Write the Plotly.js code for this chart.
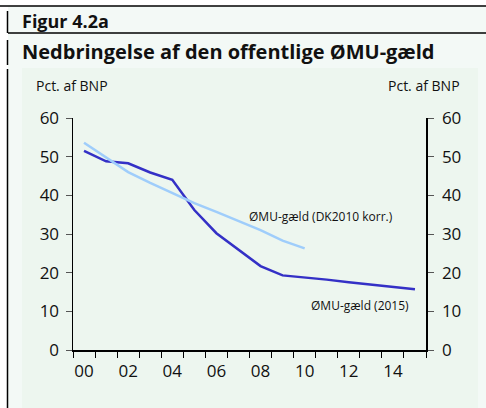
<!DOCTYPE html>
<html>
<head>
<meta charset="utf-8">
<script src="https://cdn.plot.ly/plotly-3.0.1.min.js"></script>
<style>html,body{margin:0;padding:0;background:#fff;}#chart{width:486px;height:408px;}</style>
</head>
<body>
<div id="chart"></div>
<script>
// ---- data ----
const years = [2000,2001,2002,2003,2004,2005,2006,2007,2008,2009,2010,2011,2012,2013,2014,2015];
const gaeld2015 = [51.5,48.8,48.3,45.9,44.0,36.2,30.2,25.9,21.7,19.3,18.8,18.2,17.5,16.9,16.4,15.7];
const yearsDK2010 = [2000,2001,2002,2003,2004,2005,2006,2007,2008,2009,2010];
const gaeldDK2010 = [53.6,49.8,46.0,43.2,40.6,38.0,35.7,33.4,31.0,28.3,26.3];
const xTickVals = [2000,2002,2004,2006,2008,2010,2012,2014];
const xTickText = ['00','02','04','06','08','10','12','14'];
const yTickVals = [0,10,20,30,40,50,60];
const seriesNames = ['ØMU-gæld (2015)','ØMU-gæld (DK2010 korr.)'];

// ---- layout helpers (pixel -> paper) ----
const W = 486, H = 408, L = 73, R = 60, T = 118, B = 58;
const pw = W - L - R, ph = H - T - B;
const px = x => (x - L) / pw;
const py = y => (H - B - y) / ph;

const font = '"Open Sans", "Noto Sans", sans-serif';

const traces = [
  {x: years, y: gaeld2015, type: 'scatter', mode: 'lines', name: seriesNames[0],
   line: {color: '#3430c6', width: 2.5}, hoverinfo: 'skip'},
  {x: yearsDK2010, y: gaeldDK2010, type: 'scatter', mode: 'lines', name: seriesNames[1],
   line: {color: '#9fcdfb', width: 2.5}, hoverinfo: 'skip'},
  {x: [years[0]], y: [null], yaxis: 'y2', type: 'scatter', mode: 'lines', showlegend: false, hoverinfo: 'skip'}
];

const axisY = {
  range: [0, 60], tickvals: yTickVals, ticks: 'outside', ticklen: 6, tickwidth: 1, tickcolor: '#555',
  showline: true, linecolor: '#000', linewidth: 1.5, showgrid: false, zeroline: false,
  tickfont: {family: font, size: 17, color: '#111'}, fixedrange: true
};

const layout = {
  width: W, height: H,
  margin: {l: L, r: R, t: T, b: B, pad: 0},
  paper_bgcolor: '#ffffff', plot_bgcolor: 'rgba(0,0,0,0)',
  showlegend: false,
  xaxis: {
    range: [years[0] - 0.5, years[years.length - 1] + 0.5],
    tickvals: xTickVals, ticktext: xTickText, ticks: 'outside', ticklen: 0,
    ticklabelstandoff: 5,
    minor: {tick0: years[0] - 0.5, dtick: 1, ticks: 'outside', ticklen: 6, tickwidth: 1, tickcolor: '#000', showgrid: false},
    showline: true, linecolor: '#000', linewidth: 1.5, showgrid: false, zeroline: false,
    tickfont: {family: font, size: 17, color: '#111'}, fixedrange: true
  },
  yaxis: Object.assign({}, axisY, {side: 'left', ticklabelstandoff: 3}),
  yaxis2: Object.assign({}, axisY, {side: 'right', overlaying: 'y', ticklabelstandoff: 5}),
  shapes: [
    {type: 'rect', xref: 'paper', yref: 'paper', x0: px(8), x1: px(486), y0: py(408), y1: py(6), fillcolor: '#f3f9f6', line: {width: 0}, layer: 'below'},
    {type: 'rect', xref: 'paper', yref: 'paper', x0: px(22), x1: px(478), y0: py(408), y1: py(68), fillcolor: '#edf6ef', line: {width: 0}, layer: 'below'},
    {type: 'line', xref: 'paper', yref: 'paper', x0: px(0), x1: px(486), y0: py(6), y1: py(6), line: {color: '#000', width: 1.5}},
    {type: 'line', xref: 'paper', yref: 'paper', x0: px(8), x1: px(486), y0: py(33), y1: py(33), line: {color: '#000', width: 1.5}},
    {type: 'line', xref: 'paper', yref: 'paper', x0: px(7.5), x1: px(7.5), y0: py(11), y1: py(33), line: {color: '#000', width: 1.5}},
    {type: 'line', xref: 'paper', yref: 'paper', x0: px(7.5), x1: px(7.5), y0: py(40), y1: py(65), line: {color: '#000', width: 1.5}},
    {type: 'line', xref: 'paper', yref: 'paper', x0: px(7.5), x1: px(7.5), y0: py(69), y1: py(408), line: {color: '#000', width: 1.5}}
  ],
  annotations: [
    {text: '<b>Figur 4.2a</b>', xref: 'paper', yref: 'paper', x: px(20), y: py(21), xanchor: 'left', yanchor: 'middle', showarrow: false,
     font: {family: font, size: 18, color: '#111'}},
    {text: '<b>Nedbringelse af den offentlige ØMU-gæld</b>', xref: 'paper', yref: 'paper', x: px(20), y: py(51), xanchor: 'left', yanchor: 'middle', showarrow: false,
     font: {family: font, size: 20, color: '#111'}},
    {text: 'Pct. af BNP', xref: 'paper', yref: 'paper', x: px(34), y: py(86), xanchor: 'left', yanchor: 'middle', showarrow: false,
     font: {family: font, size: 14, color: '#111'}},
    {text: 'Pct. af BNP', xref: 'paper', yref: 'paper', x: px(462), y: py(86), xanchor: 'right', yanchor: 'middle', showarrow: false,
     font: {family: font, size: 14, color: '#111'}},
    {text: seriesNames[1], xref: 'x', yref: 'y', x: 2007.4, y: 34.6, xanchor: 'left', yanchor: 'middle', showarrow: false,
     font: {family: font, size: 12, color: '#111'}},
    {text: seriesNames[0], xref: 'x', yref: 'y', x: 2010.2, y: 11.6, xanchor: 'left', yanchor: 'middle', showarrow: false,
     font: {family: font, size: 12, color: '#111'}}
  ]
};

Plotly.newPlot('chart', traces, layout, {staticPlot: true, displayModeBar: false});
</script>
</body>
</html>
